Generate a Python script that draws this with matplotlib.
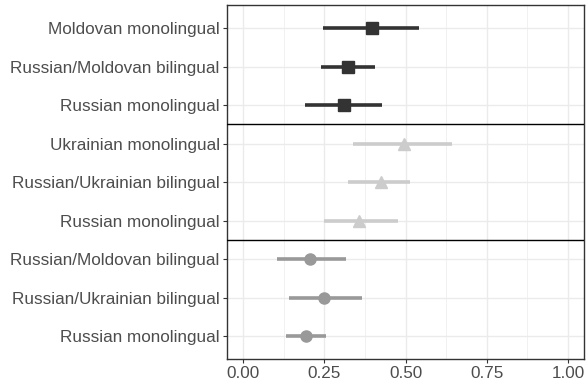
import numpy as np
import matplotlib.pyplot as plt

plt.rcParams['font.family'] = ['Liberation Sans', 'DejaVu Sans']

# rows listed top to bottom within each group
labels_mold = ['Moldovan monolingual', 'Russian/Moldovan bilingual', 'Russian monolingual']
est_mold = [0.396, 0.324, 0.310]
lo_mold = [0.247, 0.240, 0.192]
hi_mold = [0.542, 0.407, 0.428]

labels_ukr = ['Ukrainian monolingual', 'Russian/Ukrainian bilingual', 'Russian monolingual']
est_ukr = [0.496, 0.424, 0.356]
lo_ukr = [0.339, 0.324, 0.250]
hi_ukr = [0.644, 0.513, 0.477]

labels_rus = ['Russian/Moldovan bilingual', 'Russian/Ukrainian bilingual', 'Russian monolingual']
est_rus = [0.207, 0.248, 0.195]
lo_rus = [0.106, 0.142, 0.133]
hi_rus = [0.316, 0.365, 0.255]

groups = [
    (labels_mold, est_mold, lo_mold, hi_mold, '#333333', 's', 8.5),
    (labels_ukr, est_ukr, lo_ukr, hi_ukr, '#cccccc', '^', 9),
    (labels_rus, est_rus, lo_rus, hi_rus, '#999999', 'o', 8),
]

fig = plt.figure(figsize=(5.86, 3.89), dpi=100)
ax = fig.add_axes([0.3869, 0.0763, 0.9971 - 0.3869, 0.9871 - 0.0763])

n = sum(len(g[0]) for g in groups)
ypos = []
ylabels = []
row = n
for labels, est, lo, hi, col, mk, ms in groups:
    ys = np.arange(row, row - len(labels), -1)
    ax.hlines(ys, lo, hi, color=col, linewidth=2.6, zorder=3)
    ax.plot(est, ys, linestyle='none', marker=mk, color=col, markersize=ms, zorder=4)
    ypos.extend(ys)
    ylabels.extend(labels)
    row -= len(labels)

# separators between groups
ax.axhline(6.5, color='black', linewidth=1.0, zorder=5)
ax.axhline(3.5, color='black', linewidth=1.0, zorder=5)

ax.set_xlim(-0.05, 1.05)
ax.set_ylim(0.4, n + 0.6)
ax.set_xticks([0, 0.25, 0.5, 0.75, 1.0])
ax.set_xticklabels(['0.00', '0.25', '0.50', '0.75', '1.00'])
ax.set_xticks([0.125, 0.375, 0.625, 0.875], minor=True)
ax.set_yticks(ypos)
ax.set_yticklabels(ylabels)

ax.grid(which='major', color='#ebebeb', linewidth=1.0, zorder=0)
ax.grid(which='minor', axis='x', color='#ebebeb', linewidth=0.5, zorder=0)
ax.set_axisbelow(True)

ax.tick_params(which='major', length=3, width=0.8, color='#333333',
               labelsize=12.3, labelcolor='#4d4d4d', pad=2)
ax.tick_params(which='minor', length=0)
for s in ax.spines.values():
    s.set_color('#333333')
    s.set_linewidth(1.0)

fig.savefig('out.png', dpi=100)
